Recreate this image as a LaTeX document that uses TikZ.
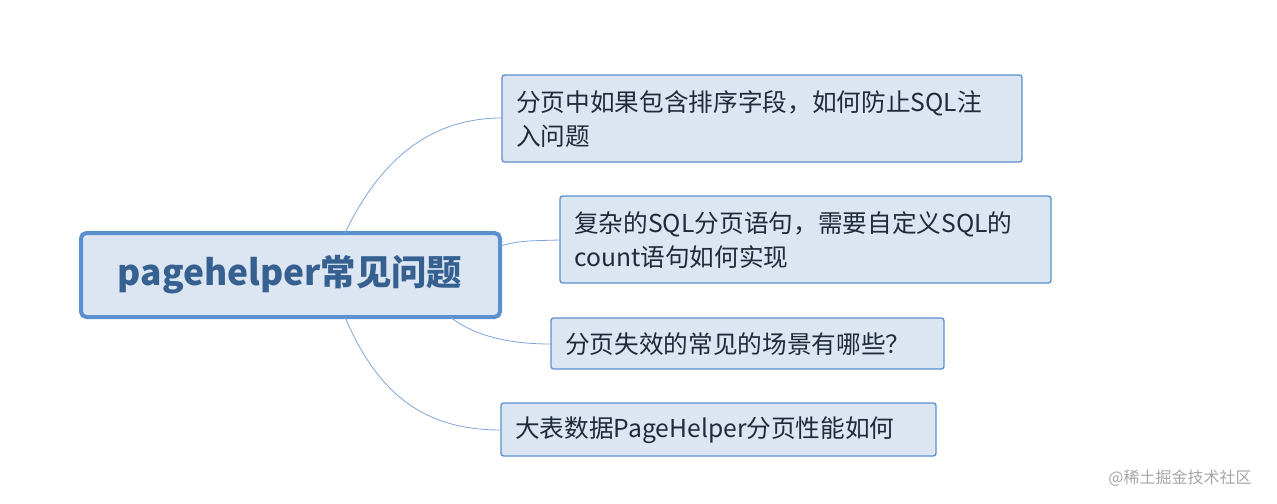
\documentclass[tikz,border=0pt]{standalone}
\usepackage{fontspec}
\setmainfont{Noto Sans CJK SC}
\definecolor{boxfill}{HTML}{DCE6F2}
\definecolor{boxline}{HTML}{5B8FD0}
\definecolor{maintext}{HTML}{35608F}
\definecolor{subtext}{HTML}{1F2A3A}
\tikzset{
 sub/.style={draw=boxline,fill=boxfill,rounded corners=2pt,line width=1pt,anchor=north west,inner sep=0pt},
 link/.style={draw=boxline!80,line width=0.6pt},
 subtxt/.style={anchor=west,text=subtext,font=\fontsize{18.5}{25.5}\selectfont,align=left,inner sep=0pt},
}
\begin{document}
\begin{tikzpicture}[x=0.75pt,y=-0.75pt]
\useasboundingbox (0,0) rectangle (1277,503);
\draw[boxline,fill=boxfill,line width=3pt,rounded corners=4pt] (81,233) rectangle (500,317);
\node[text=maintext,font=\bfseries\fontsize{26.5}{30}\selectfont] (c) at (290,275) {pagehelper常见问题};
\coordinate (c1) at (345,233);\coordinate (c2) at (500,246);\coordinate (c3) at (450,317);\coordinate (c4) at (345,317);
\draw[sub] (502,75) rectangle (1022,162);
\node[subtxt] (a) at (516,119) {分页中如果包含排序字段，如何防止SQL注\\入问题};
\draw[sub] (560,196) rectangle (1051,283);
\node[subtxt] (b) at (574,240) {复杂的SQL分页语句，需要自定义SQL的\\count语句如何实现};
\draw[sub] (551,318) rectangle (944,369);
\node[subtxt] (d) at (565,344) {分页失效的常见的场景有哪些？};
\draw[sub] (501,403) rectangle (936,456);
\node[subtxt] (e) at (515,430) {大表数据PageHelper分页性能如何};
\coordinate (t1) at (502,118);\coordinate (t2) at (560,240);\coordinate (t3) at (551,344);\coordinate (t4) at (501,430);
\draw[link] (c1) .. controls (380,160) and (430,118) .. (t1);
\draw[link] (c2) .. controls (520,241) .. (t2);
\draw[link] (c3) .. controls (480,340) and (520,344) .. (t3);
\draw[link] (c4) .. controls (380,400) and (430,430) .. (t4);
\node[text=gray!70,font=\fontsize{12}{14}\selectfont] (w) at (1180,478) {@稀土掘金技术社区};
\end{tikzpicture}
\end{document}
